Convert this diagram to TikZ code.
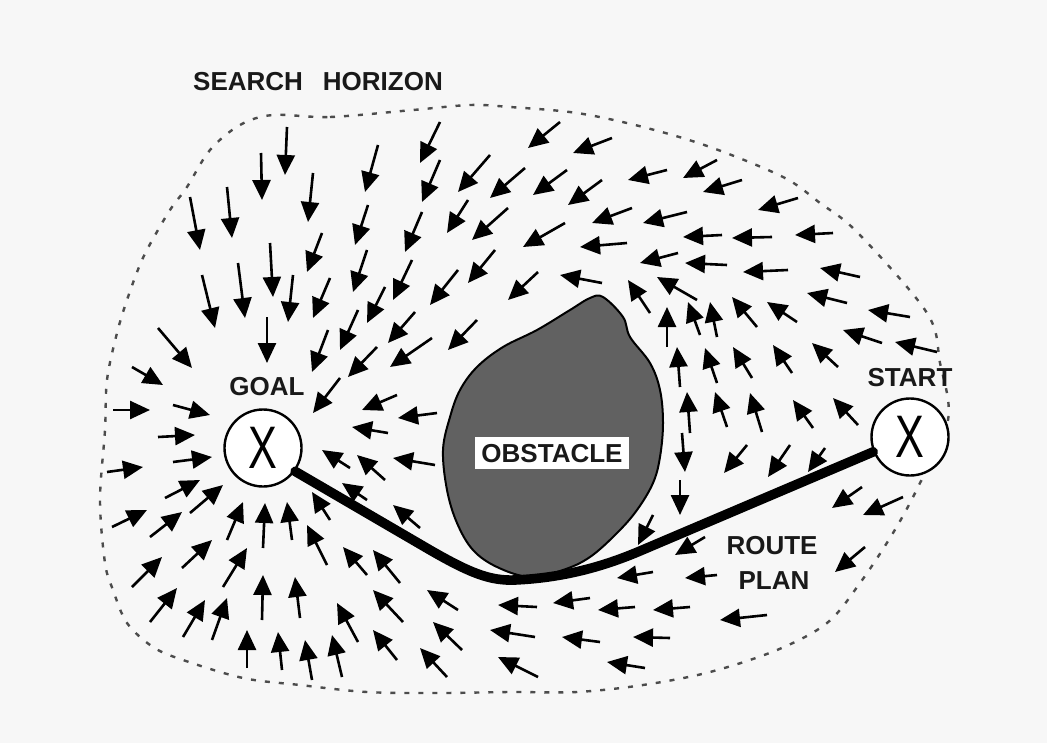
\documentclass[tikz,border=0pt]{standalone}
\usepackage{fontspec}
\setmainfont{Liberation Sans}
\usetikzlibrary{arrows.meta}
\begin{document}
\begin{tikzpicture}[x=0.5pt,y=-0.5pt,
  vec/.style={line width=1.3pt,-{Triangle[length=10pt,width=9pt]}},
  horizon/.style={line width=1.2pt,dash pattern=on 2.5pt off 4.5pt,black!70},
  route/.style={line width=4.8pt,line cap=round},
  lbl/.style={font=\fontsize{13}{13}\selectfont\bfseries,text=black!90,inner sep=0pt},
  target/.style={circle,draw,line width=1.2pt,fill=white,minimum size=38.5pt,inner sep=0pt,
    font=\fontsize{30}{30}\selectfont},
  obstacle/.style={fill=black!62,draw=black,line width=1pt}]
\useasboundingbox[fill=black!3] (0,0) rectangle (1047,743);
% search horizon
\draw[horizon] plot[smooth cycle,tension=0.55] coordinates {(273,115) (330,117) (413,110) (470,105) (510,107) (577,113) (643,127) (710,147) (783,177) (820,203) (858,233) (927,313) (940,363) (948,420) (918,487) (893,533) (860,583) (827,623) (777,650) (710,672) (643,685) (577,692) (510,692) (440,693) (367,692) (300,685) (243,678) (183,660) (153,647) (127,623) (113,590) (105,563) (100,500) (105,430) (107,380) (117,333) (128,297) (142,260) (158,230) (172,207) (187,187) (210,150) (240,125)};
\node[lbl] (horizonlbl) at (318,82) {SEARCH\hspace{10pt}HORIZON};
% obstacle
\draw[obstacle] plot[smooth cycle,tension=0.6] coordinates {(603,297) (623,317) (630,337) (650,363) (660,390) (663,423) (660,457) (653,483) (637,510) (617,533) (590,557) (563,570) (530,577) (497,567) (473,550) (457,523) (447,490) (443,450) (450,417) (460,390) (477,367) (503,347) (537,330) (570,310) (590,298)};
\node[lbl,fill=white,text height=9.3pt,text depth=0pt,inner xsep=3pt,inner ysep=3.5pt] (obslbl) at (552,453) {OBSTACLE};
% vector field
\foreach \a/\b/\c/\d in {
 287/127/285/175, 261/153/262/200, 313/173/308/222, 378/145/365/192, 440/122/420/163,
 190/197/200/250, 227/187/232/238, 270/243/273/297, 322/233/307/272, 368/205/355/245,
 440/160/422/202, 490/155/458/192, 525/168/490/198, 422/212/405/252, 468/200/447/233,
 508/208/472/240, 202/275/215/328, 238/263/245/318, 293/275/288/322, 330/278/313/318,
 367/250/353/292, 412/260/393/300, 495/250/468/283, 458/270/430/305, 538/272/508/300,
 267/317/267/363, 328/330/312/372, 358/310/340/350, 385/287/367/323, 415/312/388/343,
 377/347/348/377, 432/338/390/367, 477/320/448/350, 158/328/192/368, 132/367/163/385,
 340/378/313/413,
 560/122/528/148, 612/138/573/153, 567/170/533/195, 602/180/568/205, 667/170/628/180,
 717/160/683/178, 742/180/703/192, 798/198/758/210, 565/223/523/247, 632/208/592/223,
 687/212/643/223, 627/243/580/247, 722/235/683/237, 772/237/732/238, 833/233/795/235,
 678/253/640/263, 727/265/685/263, 788/270/743/272, 860/277/820/268, 602/283/560/275,
 650/313/628/280, 697/300/657/277, 847/303/807/293, 797/322/767/302, 910/317/868/310,
 882/343/843/330, 937/352/895/342, 838/367/812/343, 792/373/773/345, 757/327/732/297,
 752/378/733/347, 717/337/710/302, 700/335/688/302, 717/383/705/348, 667/347/667/307,
 680/387/677/347, 690/433/687/392, 727/427/715/392, 762/432/750/393, 813/428/793/400,
 858/425/833/398, 682/433/685/472, 680/480/680/515, 747/445/724/473, 790/445/768/477,
 825/448/808/472, 862/487/832/508, 903/497/863/515, 865/547/835/572, 653/515/638/545,
 705/537/675/555, 653/572/617/578, 717/575/685/578, 767/615/720/620, 537/607/498/605,
 535/637/490/630, 538/677/498/657, 590/598/553/603, 635/607/598/610, 690/607/653/610,
 600/642/562/637, 670/638/633/637, 645/668/607/662,
 113/410/150/410, 173/405/210/415, 158/437/195/435, 107/472/143/467, 173/462/212/457,
 165/498/200/480, 190/513/223/485, 112/527/147/510, 150/537/182/512, 182/568/212/540,
 227/540/243/502, 263/548/265/503, 292/540/287/502, 327/565/307/525, 132/587/162/557,
 223/587/247/548, 150/622/177/588, 183/637/205/600, 212/640/227/598, 262/620/263/575,
 300/618/295/577, 367/575/343/547, 400/583/373/550, 358/642/337/603, 403/622/373/590,
 247/668/247/630, 282/670/278/632, 312/680/305/640, 342/677/332/635, 397/660/373/630,
 447/677/420/648, 462/650/433/622, 458/610/427/590, 397/395/362/410, 437/413/398/418,
 388/433/352/427, 350/468/322/450, 385/480/357/455, 435/465/393/458, 367/500/342/483,
 330/520/312/492, 420/528/393/505}
 \draw[vec] (\a,\b) -- (\c,\d);
% goal and start
\node[target] (goal) at (263,448) {\scalebox{0.72}[1]{X}};
\node[target] (start) at (910,437) {\scalebox{0.72}[1]{X}};
\node[lbl] (goallbl) at (267,387) {GOAL};
\node[lbl] (startlbl) at (910,378) {START};
% route plan
\draw[route] (goal.-36) -- (430,550) .. controls (470,573) and (490,581) .. (515,580)
  .. controls (560,578) and (600,568) .. (640,551) -- (start.-158);
\node[lbl] (routelbl) at (772,546) {ROUTE};
\node[lbl] (planlbl) at (774,581) {PLAN};
\end{tikzpicture}
\end{document}
